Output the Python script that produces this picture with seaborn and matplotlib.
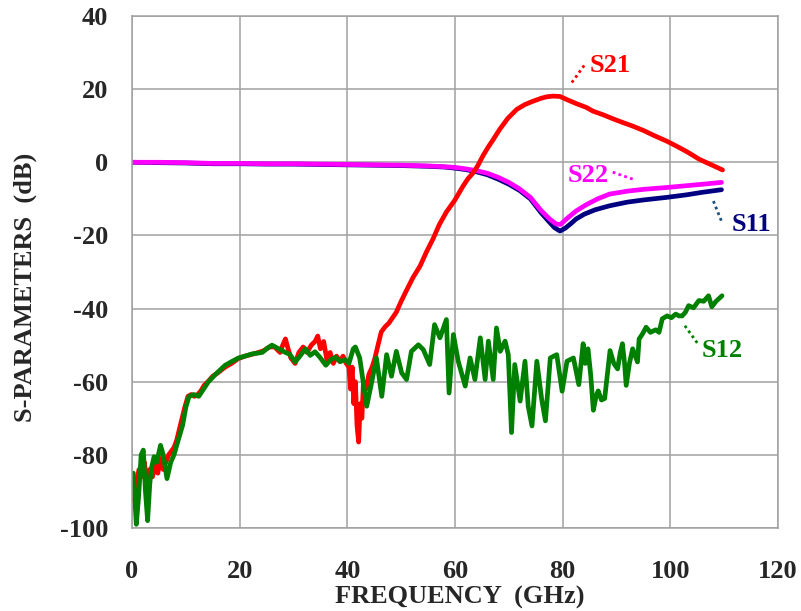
import matplotlib
matplotlib.use("Agg")
import matplotlib.pyplot as plt
import pandas as pd
import seaborn as sns

# --- data (GHz, dB) ---
s21_freq = [0.3, 0.8, 1.3, 1.8, 2.3, 2.8, 3.3, 3.8, 4.3, 4.8, 5.3, 5.8, 6.3, 6.8, 7.3, 7.8,
            8.3, 8.8, 9.3, 9.8, 10.4, 11.0, 11.6, 12.2, 12.8, 13.4, 14.1, 15.0, 16.0, 17.3,
            18.5, 19.7, 21.0, 22.3, 23.5, 24.5, 25.5, 26.5, 27.5, 28.0, 28.5, 29.0, 29.5,
            30.3, 31.0, 31.8, 32.5, 33.3, 34.0, 34.5, 35.0, 35.6, 36.2, 36.8, 37.4, 38.0,
            38.6, 39.2, 39.8, 40.3, 40.6, 40.9, 41.2, 41.5, 41.8, 42.1, 42.4, 42.7, 43.0,
            43.5, 44.0, 44.6, 45.1, 45.7, 46.3, 47.0, 47.7, 48.4, 49.1, 50.0, 51.0, 52.2,
            53.5, 54.7, 55.9, 57.1, 58.4, 59.9, 61.5, 62.4, 63.3, 64.2, 65.2, 66.1, 67.0,
            68.3, 69.8, 71.5, 73.0, 74.5, 76.0, 77.0, 78.2, 79.5, 81.0, 82.6, 84.4, 85.6,
            87.5, 89.5, 91.3, 93.0, 95.0, 97.0, 99.3, 101.3, 103.3, 105.4, 107.5, 109.7]
s21_db = [-92.5, -88, -84, -86, -82, -88, -84, -86, -83, -85, -81, -84, -82, -80, -79, -78,
          -76, -73, -70, -67, -64, -63.5, -64, -63.5, -62.5, -61, -60, -58.5, -57.5, -56,
          -55, -53.7, -53, -52.5, -52, -51.5, -50.5, -50.5, -52, -50, -48.3, -51, -53.5,
          -55, -52, -50.5, -52, -50, -49, -47.5, -51, -49, -54, -52, -55, -53,
          -54.5, -53, -55, -56, -62, -56, -66, -60, -72, -76.5, -66, -70, -60,
          -62, -58, -56, -53.7, -50, -46.4, -45, -44, -42.5, -41, -38, -35, -31.5,
          -28.4, -24.5, -21, -17, -13.6, -10.5, -6.5, -4.5, -3, -1, 1.8, 4, 6,
          9, 12, 14.5, 15.8, 16.7, 17.5, 17.9, 18.1, 18.0, 17.0, 16.0, 15.0, 14.0,
          13.0, 11.8, 10.8, 9.9, 8.7, 7.3, 5.8, 4.3, 2.7, 0.8, -0.6, -2.1]

s11_freq = [0, 5, 10, 15, 20, 25, 30, 35, 40, 45, 50, 55, 58, 60, 62, 64, 66, 68, 70, 72,
            74, 76, 77.5, 78.5, 79.5, 80.5, 81.5, 82.5, 84, 86, 88.7, 92, 95, 99.3, 103,
            106, 109.5]
s11_db = [0, -0.1, -0.2, -0.4, -0.4, -0.5, -0.5, -0.6, -0.7, -0.8, -0.9, -1.1, -1.3, -1.6,
          -2.0, -2.6, -3.4, -4.6, -6.0, -7.7, -10.0, -13.8, -16.3, -17.9, -18.8, -18.0,
          -16.8, -15.5, -14.2, -13.0, -11.9, -10.9, -10.3, -9.6, -8.9, -8.2, -7.5]

s22_freq = [0, 5, 10, 15, 20, 25, 30, 35, 40, 45, 50, 55, 58, 60, 62, 64, 66, 68, 70, 72,
            74, 76, 77.5, 78.8, 79.6, 80.7, 82.5, 84.5, 86.5, 88.7, 92, 95, 99.3, 103,
            106, 109.5]
s22_db = [0, 0, -0.1, -0.3, -0.3, -0.4, -0.4, -0.5, -0.6, -0.7, -0.8, -1.0, -1.2, -1.4,
          -1.8, -2.3, -3.0, -4.1, -5.5, -7.3, -9.6, -13.2, -15.4, -16.9, -17.0, -15.5,
          -13.3, -11.5, -10.0, -8.7, -7.9, -7.4, -6.9, -6.4, -6.0, -5.5]

s12_freq = [0.25, 0.8, 1.2, 1.7, 2.1, 2.5, 2.9, 3.3, 3.6, 4.1, 4.6, 5.3, 5.8, 6.5, 7.2, 7.8,
            8.5, 9.4, 10.0, 10.6, 11.5, 12.4, 13.3, 14.2, 15.5, 17.3, 18.5, 19.8, 21, 22.3,
            24.2, 25, 26, 27, 28.5, 29.3, 30.3, 31.2, 32.2, 33.1, 34, 35, 36, 36.9, 37.8,
            38.7, 39.6, 40.3, 41.1, 41.5,
            42.3, 43.6, 44.5, 45.4, 46.4, 47.3, 48.2, 49.1, 50.1, 51.0, 51.9, 53.2, 54.1,
            55.3, 56.2, 57.2, 58.4, 58.9, 59.7, 60.6, 61.9, 62.8, 63.7, 64.7, 65.6, 66.2,
            67.1, 67.7, 68.4, 69.3, 69.9, 70.5, 71.1, 72.1, 73.0, 73.6, 74.3, 75.2, 76.1,
            76.8, 77.7, 78.9, 79.9, 80.8, 82.0, 83.0,
            83.8, 84.2, 84.7, 85.2,
            85.7, 86.2, 86.6, 87.2, 87.8, 88.3, 88.8, 89.5, 90.2, 90.7, 91.1, 91.5, 91.8,
            92.4, 93, 93.5, 93.9, 94.2, 94.8, 95.5, 96.3, 97.3, 97.9, 98.5, 99.4, 100.2,
            101, 101.6, 102.2, 102.8, 103.4, 104.3, 105.3, 106.2, 107.1, 107.7, 108.5, 109.6]
s12_db = [-85, -99, -92, -80, -78.7, -90, -98, -88, -83.7, -80.5, -82, -77.4, -80, -86.5,
          -82, -80, -76.4, -71.9, -67, -64, -63.5, -64, -62, -60, -58, -55.5, -54.5, -53.5,
          -53, -52.4, -52, -51, -50, -50.8, -52, -52.5, -54.6, -53, -51, -52.8, -51.8,
          -53.5, -55.5, -54, -53.3, -54.5, -54, -55, -51, -50.5,
          -53.5, -66.7, -60.3, -53.5, -64, -52.6, -58.5, -51.7, -57.6, -59.4, -51.7, -49.9,
          -51.2, -55.3, -44.4, -48, -43, -63.1, -47.1, -54.4, -61.2, -53.5, -59.4, -48,
          -59.4, -48.9, -59.4, -45.3, -51.7, -48.9, -52.6, -73.9, -55.3, -65.3, -54.4,
          -66.7, -72.1, -54.4, -64.8, -70.7, -53.5, -52.6, -62.6, -54.4, -53.5, -60.8,
          -49.6, -55, -51, -58,
          -67.8, -64, -62.5, -65, -64.6, -58, -51.5, -55, -56.5, -52, -49.6,
          -55, -61, -55, -51, -53, -54.6, -48.3, -47, -45.1, -46.5, -45.8, -46.5, -42.8,
          -42, -42.5, -41.5, -42, -42, -41, -39.2, -39.8, -37.8, -38, -36.5, -39.5, -38,
          -36.5]

x_ticks = [0, 20, 40, 60, 80, 100, 120]
y_ticks = [-100, -80, -60, -40, -20, 0, 20, 40]

sns.set_style("white")
plt.rcParams['font.family'] = ['Liberation Serif', 'DejaVu Serif']
plt.rcParams['font.weight'] = 'bold'
plt.rcParams['axes.unicode_minus'] = False

fig = plt.figure(figsize=(8.01, 6.11), dpi=100)
ax = fig.add_axes([132 / 801, 1 - 528 / 611, 646 / 801, 512 / 611])

grid_col = '#a0a0a0'
ax.set_xlim(0, 120)
ax.set_ylim(-100, 40)
ax.set_xticks(x_ticks)
ax.set_yticks(y_ticks)
ax.grid(True, color=grid_col, lw=1.1)
for sp in ax.spines.values():
    sp.set_color(grid_col)
    sp.set_linewidth(1.1)

curves = [
    (s11_freq, s11_db, '#000080'),
    (s22_freq, s22_db, '#ff00ff'),
    (s21_freq, s21_db, '#ff0000'),
    (s12_freq, s12_db, '#008000'),
]
for fr, db, col in curves:
    df = pd.DataFrame({'f': fr, 'db': db})
    sns.lineplot(data=df, x='f', y='db', color=col, lw=3.4, sort=False,
                 estimator=None, ax=ax)

ax.tick_params(axis='x', length=0, pad=23, labelsize=19)
ax.tick_params(axis='y', length=7.2, width=1.1, color=grid_col, pad=10, labelsize=19)
for lab in ax.get_xticklabels() + ax.get_yticklabels():
    lab.set_fontweight('bold')

ax.set_xlabel('FREQUENCY  (GHz)', fontsize=19, fontweight='bold')
ax.set_ylabel('S-PARAMETERS  (dB)', fontsize=19, fontweight='bold')
ax.xaxis.set_label_coords(0.508, -0.113)
ax.yaxis.set_label_coords(-0.147, 0.47)

# curve labels with dotted leaders
labels = [
    ('S21', 88.9, 26.5, (81.7, 21.8), (84.1, 26.7), '#ff0000', '#ff0000'),
    ('S22', 84.8, -3.7, (89.3, -2.7), (93.0, -4.6), '#ff00ff', '#ff00ff'),
    ('S11', 115.0, -16.9, (108.0, -10.6), (109.5, -16.1), '#000080', '#1f4e79'),
    ('S12', 109.6, -51.4, (102.7, -44.7), (105.1, -49.6), '#008000', '#008000'),
]
for txt, tx, ty, p0, p1, col, lcol in labels:
    ax.text(tx, ty, txt, color=col, fontsize=19, fontweight='bold',
            ha='center', va='center')
    ax.plot([p0[0], p1[0]], [p0[1], p1[1]], color=lcol, lw=2, ls=(0, (1, 1.2)))

fig.savefig('out.png', dpi=100)
